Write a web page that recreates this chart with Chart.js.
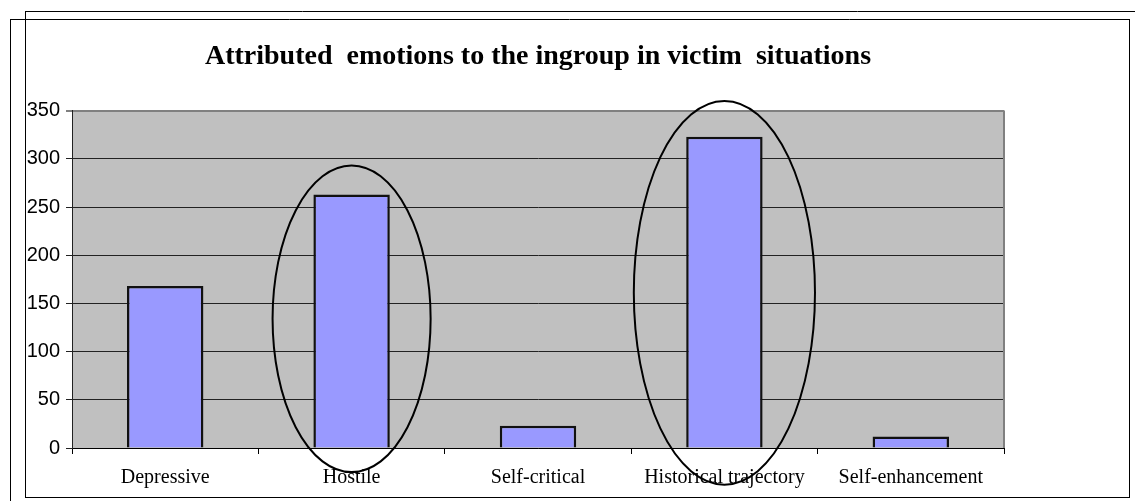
<!DOCTYPE html>
<html>
<head>
<meta charset="utf-8">
<style>
  html, body { margin: 0; padding: 0; background: #fff; }
  #grafica { display: block; }
</style>
</head>
<body>
<canvas id="grafica" width="1135" height="501"></canvas>
<script src="https://cdn.jsdelivr.net/npm/chart.js"></script>
<script>
// datos
const categorias = ["Depressive", "Hostile", "Self-critical", "Historical trajectory", "Self-enhancement"];
const valores = [168, 263, 23, 323, 12];
const yMax = 350;
const yPaso = 50;
const titulo = "Attributed  emotions to the ingroup in victim  situations";

// elipses marcadas a mano en el original (indice de categoria, semiancho en categorias, valor arriba/abajo)
const elipseCategorias = [1, 3];
const elipseAncho = [0.424, 0.486];
const elipseArriba = [293, 360];
const elipseAbajo = [-25, -38];

const fondoGris = {
  id: 'fondoGris',
  beforeDraw(chart) {
    const { ctx, chartArea: a } = chart;
    ctx.save();
    ctx.fillStyle = '#C0C0C0';
    ctx.fillRect(a.left, a.top, a.right - a.left, a.bottom - a.top);
    ctx.restore();
  },
  afterDraw(chart) {
    const { ctx, chartArea: a } = chart;
    ctx.save();
    // borde derecho del area gris
    ctx.strokeStyle = '#808080';
    ctx.lineWidth = 2;
    ctx.beginPath();
    ctx.moveTo(a.right, a.top);
    ctx.lineTo(a.right, a.bottom);
    ctx.stroke();
    // marcos del documento
    ctx.strokeStyle = '#000';
    ctx.lineWidth = 1;
    ctx.beginPath();
    ctx.moveTo(25, 11.5); ctx.lineTo(1135, 11.5);
    ctx.moveTo(25.5, 11); ctx.lineTo(25.5, 498);
    ctx.moveTo(10.5, 19); ctx.lineTo(10.5, 501);
    ctx.moveTo(10, 19.5); ctx.lineTo(1129, 19.5);
    ctx.moveTo(1129.5, 19); ctx.lineTo(1129.5, 498);
    ctx.moveTo(25, 497.5); ctx.lineTo(1129, 497.5);
    ctx.stroke();
    ctx.restore();
  }
};

const elipses = {
  id: 'elipses',
  afterDatasetsDraw(chart) {
    const { ctx, scales: { x, y } } = chart;
    const anchoCat = (x.right - x.left) / categorias.length;
    ctx.save();
    ctx.strokeStyle = '#000';
    ctx.lineWidth = 2;
    elipseCategorias.forEach((c, i) => {
      const cx = x.getPixelForValue(c);
      const top = y.getPixelForValue(elipseArriba[i]);
      const bot = y.getPixelForValue(elipseAbajo[i]);
      ctx.beginPath();
      ctx.ellipse(cx, (top + bot) / 2, elipseAncho[i] * anchoCat, (bot - top) / 2, 0, 0, Math.PI * 2);
      ctx.stroke();
    });
    ctx.restore();
  }
};

new Chart(document.getElementById('grafica'), {
  type: 'bar',
  data: {
    labels: categorias,
    datasets: [{
      data: valores,
      backgroundColor: '#9999FF',
      borderColor: '#111',
      borderWidth: 2.5,
      barPercentage: 0.41,
      categoryPercentage: 1
    }]
  },
  options: {
    responsive: false,
    animation: false,
    devicePixelRatio: 1,
    layout: { padding: { left: 0, right: 131, top: 0, bottom: 0 } },
    plugins: {
      legend: { display: false },
      tooltip: { enabled: false },
      title: {
        display: true,
        text: titulo,
        fullSize: false,
        color: '#000',
        font: { family: 'Liberation Serif', size: 28, weight: 'bold', lineHeight: 1.2 },
        padding: { top: 40, bottom: 37 }
      }
    },
    scales: {
      x: {
        grid: { display: true, drawOnChartArea: false, drawTicks: true, tickLength: 6, color: '#000', offset: true },
        border: { color: '#000', width: 1 },
        ticks: { color: '#000', font: { family: 'Liberation Serif', size: 20 }, padding: 12, maxRotation: 0, autoSkip: false },
        afterFit(s) { s.height = 53; }
      },
      y: {
        min: 0,
        max: yMax,
        grid: {
          color: c => (c.tick && c.tick.value === yMax) ? '#808080' : '#222',
          lineWidth: c => (c.tick && c.tick.value === yMax) ? 2 : 1,
          tickLength: 6,
          drawTicks: true
        },
        border: { color: '#222', width: 1 },
        ticks: { stepSize: yPaso, color: '#000', font: { family: 'Liberation Sans', size: 20 }, padding: 6 },
        afterFit(s) { s.width = 72; }
      }
    }
  },
  plugins: [fondoGris, elipses]
});
</script>
</body>
</html>
